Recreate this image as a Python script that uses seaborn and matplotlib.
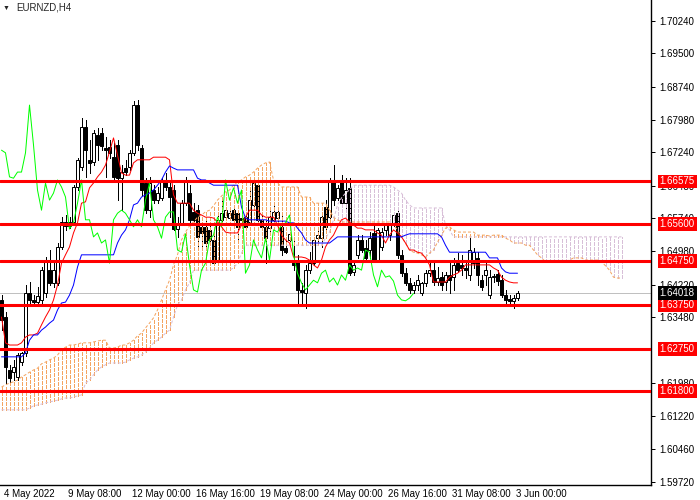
import numpy as np
import matplotlib
matplotlib.use("Agg")
import matplotlib.pyplot as plt
import matplotlib.transforms as mtrans
import seaborn as sns

# EURNZD H4 candles (one value per bar)
open_ = [1.6387, 1.6348, 1.6227, 1.6222, 1.6211, 1.6245, 1.6266, 1.6403, 1.6387, 1.6382,
         1.6387, 1.6403, 1.6455, 1.6426, 1.6426, 1.6508, 1.6565, 1.6556, 1.6565, 1.6645,
         1.6691, 1.6782, 1.6707, 1.6702, 1.6764, 1.6768, 1.6734, 1.6736, 1.6713, 1.6741,
         1.6665, 1.6688, 1.6691, 1.6723, 1.6832, 1.6734, 1.6654, 1.6592, 1.6638, 1.6615,
         1.6620, 1.6661, 1.6645, 1.6638, 1.6549, 1.6563, 1.6608, 1.6631, 1.6588, 1.6592,
         1.6554, 1.6554, 1.6547, 1.6524, 1.6478, 1.6570, 1.6576, 1.6574, 1.6592, 1.6585,
         1.6574, 1.6576, 1.6565, 1.6604, 1.6649, 1.6570, 1.6554, 1.6551, 1.6570, 1.6574,
         1.6554, 1.6506, 1.6524, 1.6478, 1.6478, 1.6410, 1.6403, 1.6455, 1.6471, 1.6528,
         1.6528, 1.6599, 1.6576, 1.6656, 1.6620, 1.6656, 1.6608, 1.6643, 1.6451, 1.6490,
         1.6524, 1.6506, 1.6501, 1.6540, 1.6478, 1.6508, 1.6547, 1.6535, 1.6563, 1.6585,
         1.6490, 1.6448, 1.6426, 1.6410, 1.6421, 1.6403, 1.6426, 1.6448, 1.6455, 1.6428,
         1.6439, 1.6428, 1.6444, 1.6439, 1.6471, 1.6467, 1.6460, 1.6444, 1.6471, 1.6483,
         1.6432, 1.6444, 1.6398, 1.6439, 1.6446, 1.6432, 1.6398, 1.6389, 1.6385, 1.6391]
high = [1.6398, 1.6359, 1.6239, 1.6250, 1.6266, 1.6268, 1.6421, 1.6428, 1.6398, 1.6417,
        1.6462, 1.6485, 1.6501, 1.6478, 1.6517, 1.6576, 1.6581, 1.6576, 1.6649, 1.6711,
        1.6802, 1.6798, 1.6752, 1.6775, 1.6780, 1.6780, 1.6759, 1.6752, 1.6745, 1.6752,
        1.6695, 1.6707, 1.6729, 1.6841, 1.6844, 1.6741, 1.6665, 1.6668, 1.6649, 1.6645,
        1.6665, 1.6677, 1.6654, 1.6649, 1.6576, 1.6615, 1.6668, 1.6649, 1.6608, 1.6604,
        1.6563, 1.6570, 1.6558, 1.6540, 1.6581, 1.6622, 1.6599, 1.6592, 1.6604, 1.6592,
        1.6581, 1.6585, 1.6645, 1.6665, 1.6661, 1.6581, 1.6570, 1.6592, 1.6604, 1.6597,
        1.6581, 1.6524, 1.6542, 1.6531, 1.6490, 1.6426, 1.6467, 1.6496, 1.6528, 1.6547,
        1.6581, 1.6615, 1.6665, 1.6695, 1.6649, 1.6672, 1.6665, 1.6665, 1.6478, 1.6535,
        1.6535, 1.6524, 1.6542, 1.6558, 1.6551, 1.6551, 1.6565, 1.6570, 1.6585, 1.6592,
        1.6501, 1.6460, 1.6437, 1.6428, 1.6444, 1.6428, 1.6455, 1.6478, 1.6474, 1.6462,
        1.6451, 1.6451, 1.6478, 1.6483, 1.6494, 1.6490, 1.6478, 1.6528, 1.6506, 1.6496,
        1.6444, 1.6474, 1.6455, 1.6446, 1.6455, 1.6444, 1.6410, 1.6398, 1.6398, 1.6407]
low = [1.6318, 1.6197, 1.6193, 1.6204, 1.6204, 1.6239, 1.6259, 1.6373, 1.6373, 1.6375,
       1.6380, 1.6394, 1.6421, 1.6417, 1.6421, 1.6503, 1.6547, 1.6551, 1.6558, 1.6638,
       1.6684, 1.6668, 1.6677, 1.6695, 1.6707, 1.6729, 1.6668, 1.6711, 1.6661, 1.6615,
       1.6592, 1.6672, 1.6684, 1.6718, 1.6729, 1.6627, 1.6585, 1.6576, 1.6608, 1.6608,
       1.6615, 1.6638, 1.6576, 1.6547, 1.6531, 1.6558, 1.6604, 1.6565, 1.6563, 1.6508,
       1.6508, 1.6508, 1.6517, 1.6467, 1.6471, 1.6565, 1.6570, 1.6570, 1.6565, 1.6524,
       1.6558, 1.6547, 1.6558, 1.6592, 1.6558, 1.6547, 1.6471, 1.6535, 1.6558, 1.6565,
       1.6490, 1.6494, 1.6512, 1.6455, 1.6380, 1.6380, 1.6369, 1.6448, 1.6467, 1.6517,
       1.6508, 1.6547, 1.6570, 1.6604, 1.6615, 1.6604, 1.6592, 1.6444, 1.6444, 1.6483,
       1.6496, 1.6478, 1.6483, 1.6474, 1.6474, 1.6501, 1.6535, 1.6524, 1.6556, 1.6483,
       1.6442, 1.6421, 1.6403, 1.6403, 1.6410, 1.6398, 1.6419, 1.6442, 1.6421, 1.6421,
       1.6410, 1.6410, 1.6403, 1.6410, 1.6451, 1.6444, 1.6437, 1.6432, 1.6460, 1.6421,
       1.6410, 1.6421, 1.6391, 1.6428, 1.6421, 1.6394, 1.6375, 1.6375, 1.6369, 1.6387]
close = [1.6341, 1.6234, 1.6209, 1.6234, 1.6261, 1.6266, 1.6403, 1.6387, 1.6382, 1.6396,
         1.6455, 1.6478, 1.6426, 1.6455, 1.6508, 1.6565, 1.6556, 1.6565, 1.6645, 1.6707,
         1.6782, 1.6729, 1.6700, 1.6768, 1.6741, 1.6739, 1.6729, 1.6723, 1.6668, 1.6665,
         1.6679, 1.6679, 1.6723, 1.6832, 1.6741, 1.6638, 1.6592, 1.6654, 1.6615, 1.6631,
         1.6661, 1.6645, 1.6622, 1.6549, 1.6563, 1.6608, 1.6661, 1.6570, 1.6570, 1.6531,
         1.6540, 1.6517, 1.6524, 1.6471, 1.6570, 1.6585, 1.6592, 1.6585, 1.6570, 1.6554,
         1.6570, 1.6554, 1.6615, 1.6654, 1.6570, 1.6554, 1.6528, 1.6576, 1.6588, 1.6588,
         1.6501, 1.6496, 1.6538, 1.6467, 1.6410, 1.6405, 1.6455, 1.6471, 1.6524, 1.6535,
         1.6576, 1.6554, 1.6661, 1.6615, 1.6643, 1.6608, 1.6638, 1.6448, 1.6467, 1.6524,
         1.6501, 1.6483, 1.6528, 1.6478, 1.6547, 1.6542, 1.6558, 1.6563, 1.6581, 1.6490,
         1.6448, 1.6426, 1.6410, 1.6421, 1.6432, 1.6426, 1.6448, 1.6455, 1.6428, 1.6437,
         1.6421, 1.6444, 1.6432, 1.6467, 1.6455, 1.6460, 1.6455, 1.6501, 1.6496, 1.6444,
         1.6417, 1.6455, 1.6439, 1.6442, 1.6430, 1.6398, 1.6387, 1.6385, 1.6391, 1.64018]

# Ichimoku lines as drawn
tenkan = [1.6348, 1.6289, 1.6284, 1.6284, 1.6284, 1.6289, 1.6302, 1.6307, 1.6307, 1.6311,
          1.6330, 1.6348, 1.6364, 1.6387, 1.6421, 1.6471, 1.6490, 1.6508, 1.6540, 1.6563,
          1.6608, 1.6611, 1.6643, 1.6654, 1.6668, 1.6679, 1.6695, 1.6725, 1.6757, 1.6718,
          1.6677, 1.6672, 1.6672, 1.6700, 1.6707, 1.6707, 1.6707, 1.6707, 1.6713, 1.6713,
          1.6713, 1.6713, 1.6707, 1.6627, 1.6608, 1.6608, 1.6608, 1.6608, 1.6592, 1.6585,
          1.6581, 1.6576, 1.6576, 1.6574, 1.6565, 1.6554, 1.6542, 1.6540, 1.6540, 1.6540,
          1.6558, 1.6576, 1.6592, 1.6592, 1.6592, 1.6581, 1.6576, 1.6576, 1.6576, 1.6558,
          1.6535, 1.6524, 1.6517, 1.6485, 1.6485, 1.6485, 1.6483, 1.6478, 1.6467, 1.6460,
          1.6478, 1.6508, 1.6524, 1.6535, 1.6554, 1.6570, 1.6574, 1.6565, 1.6558, 1.6551,
          1.6551, 1.6547, 1.6547, 1.6547, 1.6540, 1.6535, 1.6517, 1.6535, 1.6547, 1.6540,
          1.6531, 1.6517, 1.6501, 1.6501, 1.6496, 1.6494, 1.6483, 1.6467, 1.6428, 1.6428,
          1.6428, 1.6428, 1.6439, 1.6444, 1.6448, 1.6455, 1.6467, 1.6467, 1.6467, 1.6467,
          1.6467, 1.6467, 1.6467, 1.6460, 1.6455, 1.6439, 1.6432, 1.6428, 1.6426, 1.6426]
kijun = [1.6257, 1.6257, 1.6257, 1.6257, 1.6257, 1.6257, 1.6266, 1.6295, 1.6307, 1.6307,
         1.6318, 1.6325, 1.6334, 1.6341, 1.6364, 1.6380, 1.6382, 1.6398, 1.6421, 1.6462,
         1.6490, 1.6490, 1.6490, 1.6490, 1.6490, 1.6490, 1.6490, 1.6490, 1.6490, 1.6517,
         1.6535, 1.6547, 1.6570, 1.6604, 1.6608, 1.6622, 1.6627, 1.6631, 1.6638, 1.6649,
         1.6661, 1.6679, 1.6693, 1.6688, 1.6684, 1.6684, 1.6684, 1.6684, 1.6684, 1.6665,
         1.6661, 1.6661, 1.6654, 1.6649, 1.6649, 1.6649, 1.6649, 1.6649, 1.6649, 1.6649,
         1.6599, 1.6574, 1.6570, 1.6570, 1.6570, 1.6570, 1.6570, 1.6567, 1.6567, 1.6567,
         1.6567, 1.6567, 1.6563, 1.6563, 1.6551, 1.6540, 1.6524, 1.6517, 1.6517, 1.6517,
         1.6517, 1.6517, 1.6517, 1.6524, 1.6531, 1.6531, 1.6531, 1.6531, 1.6531, 1.6531,
         1.6531, 1.6531, 1.6531, 1.6531, 1.6531, 1.6531, 1.6531, 1.6531, 1.6531, 1.6531,
         1.6531, 1.6535, 1.6538, 1.6538, 1.6538, 1.6538, 1.6538, 1.6538, 1.6538, 1.6538,
         1.6531, 1.6512, 1.6496, 1.6496, 1.6496, 1.6496, 1.6496, 1.6496, 1.6496, 1.6496,
         1.6496, 1.6496, 1.6483, 1.6483, 1.6483, 1.6460, 1.6451, 1.6448, 1.6448, 1.6448]
span_a = [1.6188, 1.6193, 1.6197, 1.6200, 1.6204, 1.6211, 1.6216, 1.6222, 1.6227, 1.6231,
          1.6241, 1.6245, 1.6250, 1.6254, 1.6261, 1.6273, 1.6279, 1.6284, 1.6284, 1.6286,
          1.6289, 1.6289, 1.6289, 1.6291, 1.6293, 1.6295, 1.6295, 1.6277, 1.6277, 1.6279,
          1.6284, 1.6284, 1.6289, 1.6295, 1.6305, 1.6311, 1.6323, 1.6334, 1.6346, 1.6364,
          1.6387, 1.6410, 1.6432, 1.6467, 1.6490, 1.6524, 1.6542, 1.6556, 1.6565, 1.6576,
          1.6581, 1.6588, 1.6592, 1.6602, 1.6615, 1.6624, 1.6634, 1.6638, 1.6649, 1.6656,
          1.6661, 1.6668, 1.6672, 1.6679, 1.6688, 1.6695, 1.6700, 1.6702, 1.6661, 1.6654,
          1.6645, 1.6645, 1.6645, 1.6645, 1.6645, 1.6622, 1.6622, 1.6622, 1.6608, 1.6608,
          1.6608, 1.6608, 1.6592, 1.6576, 1.6570, 1.6565, 1.6565, 1.6565, 1.6565, 1.6565,
          1.6565, 1.6565, 1.6565, 1.6565, 1.6565, 1.6565, 1.6565, 1.6565, 1.6558, 1.6547,
          1.6531, 1.6517, 1.6501, 1.6496, 1.6494, 1.6490, 1.6485, 1.6494, 1.6501, 1.6519,
          1.6535, 1.6551, 1.6554, 1.6547, 1.6542, 1.6542, 1.6542, 1.6542, 1.6542, 1.6535,
          1.6535, 1.6535, 1.6533, 1.6535, 1.6535, 1.6535, 1.6528, 1.6524, 1.6517, 1.6517,
          1.6517, 1.6512, 1.6512, 1.6501, 1.6490, 1.6483, 1.6474, 1.6474, 1.6474, 1.6474,
          1.6474, 1.6474, 1.6478, 1.6483, 1.6483, 1.6483, 1.6478, 1.6478, 1.6478, 1.6478,
          1.6474, 1.6465, 1.6455, 1.6439, 1.6437, 1.6437]
span_b = [1.6136, 1.6136, 1.6136, 1.6136, 1.6136, 1.6136, 1.6136, 1.6140, 1.6145, 1.6147,
          1.6149, 1.6152, 1.6154, 1.6156, 1.6158, 1.6161, 1.6163, 1.6163, 1.6165, 1.6168,
          1.6170, 1.6197, 1.6204, 1.6216, 1.6227, 1.6234, 1.6239, 1.6243, 1.6243, 1.6243,
          1.6243, 1.6245, 1.6250, 1.6254, 1.6257, 1.6261, 1.6268, 1.6277, 1.6289, 1.6295,
          1.6302, 1.6311, 1.6318, 1.6348, 1.6375, 1.6387, 1.6410, 1.6426, 1.6455, 1.6455,
          1.6455, 1.6455, 1.6455, 1.6455, 1.6455, 1.6455, 1.6455, 1.6455, 1.6460, 1.6471,
          1.6494, 1.6512, 1.6512, 1.6512, 1.6512, 1.6512, 1.6512, 1.6512, 1.6512, 1.6512,
          1.6512, 1.6512, 1.6512, 1.6512, 1.6512, 1.6512, 1.6512, 1.6512, 1.6512, 1.6512,
          1.6512, 1.6528, 1.6542, 1.6570, 1.6604, 1.6620, 1.6631, 1.6638, 1.6649, 1.6649,
          1.6649, 1.6649, 1.6649, 1.6649, 1.6649, 1.6649, 1.6649, 1.6649, 1.6645, 1.6638,
          1.6631, 1.6615, 1.6604, 1.6597, 1.6597, 1.6597, 1.6597, 1.6597, 1.6597, 1.6597,
          1.6597, 1.6558, 1.6547, 1.6531, 1.6531, 1.6531, 1.6531, 1.6531, 1.6531, 1.6531,
          1.6531, 1.6531, 1.6531, 1.6531, 1.6531, 1.6531, 1.6531, 1.6531, 1.6531, 1.6531,
          1.6531, 1.6531, 1.6531, 1.6531, 1.6531, 1.6531, 1.6531, 1.6531, 1.6531, 1.6531,
          1.6531, 1.6531, 1.6531, 1.6531, 1.6531, 1.6531, 1.6531, 1.6531, 1.6531, 1.6531,
          1.6531, 1.6531, 1.6531, 1.6531, 1.6531, 1.6531]
chikou_shift = 26

levels = [1.66575, 1.65600, 1.64750, 1.63750, 1.62750, 1.61800]
last_price = 1.64018
price_ticks = [1.70240, 1.69500, 1.68740, 1.67980, 1.67240, 1.66480, 1.65740, 1.64980,
               1.64220, 1.63480, 1.61980, 1.61220, 1.60460, 1.59720]
time_ticks = [0, 16, 32, 48, 64, 80, 96, 112, 128]
time_labels = ['4 May 2022', '9 May 08:00', '12 May 00:00', '16 May 16:00', '19 May 08:00',
               '24 May 00:00', '26 May 16:00', '31 May 08:00', '3 Jun 00:00']

sns.set_style("white")
plt.rcParams['font.family'] = ['Liberation Sans', 'DejaVu Sans']
plt.rcParams['font.size'] = 7

px = 0.72  # one pixel in points at 100 dpi
fig = plt.figure(figsize=(7, 5), dpi=100)
ax = fig.add_axes([0, 15 / 500, 651 / 700, 485 / 500])

o = np.array(open_); h = np.array(high); l = np.array(low); c = np.array(close)
bars = np.arange(len(c))
up = c >= o

# candles
ax.vlines(bars, l, h, colors='black', linewidth=px, zorder=2, antialiased=False)
ax.bar(bars[up], (c - o)[up], bottom=o[up], width=0.55, color='white',
       edgecolor='black', linewidth=px, zorder=2.1)
ax.bar(bars[~up], (o - c)[~up], bottom=c[~up], width=0.55, color='black',
       edgecolor='black', linewidth=px, zorder=2.1)

# cloud, drawn as dotted vertical hatch between the two spans
a = np.array(span_a); b = np.array(span_b)
cx = np.arange(len(a))
bull = a >= b
dot = (0, (3, 2))
ax.vlines(cx[bull], b[bull], a[bull], colors='#F4A460', linestyles=dot, linewidth=px,
          zorder=3, antialiased=False)
ax.vlines(cx[~bull], a[~bull], b[~bull], colors='#D8BFD8', linestyles=dot, linewidth=px,
          zorder=3, antialiased=False)
ax.plot(cx, a, color='#F4A460', linestyle=dot, linewidth=px, zorder=3.1)
ax.plot(cx, b, color='#D8BFD8', linestyle=dot, linewidth=px, zorder=3.1)

# tenkan, kijun, chikou
sns.lineplot(x=bars, y=np.array(tenkan), ax=ax, color='red', linewidth=px, zorder=4)
sns.lineplot(x=bars, y=np.array(kijun), ax=ax, color='blue', linewidth=px, zorder=4)
sns.lineplot(x=bars[chikou_shift:] - chikou_shift, y=c[chikou_shift:], ax=ax,
             color='#00FF00', linewidth=px, zorder=4)

# levels
ax.axhline(last_price, color='#C0C0C0', linewidth=px, zorder=1.5)
for lv in levels:
    ax.axhline(lv, color='red', linewidth=2.2, zorder=5)

ax.set_xlim(-0.375, 162.375)
ax.set_ylim(1.59643, 1.70720)

ax.yaxis.tick_right()
ax.set_yticks(price_ticks)
ax.set_yticklabels(['%.5f' % t for t in price_ticks])
ax.tick_params(axis='y', direction='out', length=3, width=px, pad=3, colors='black',
               labelsize=7)
ax.set_xticks(time_ticks)
ax.set_xticklabels(time_labels, ha='left')
ax.tick_params(axis='x', direction='out', length=3, width=px, pad=0, colors='black',
               labelsize=7)
shift = mtrans.ScaledTranslation(2 / 100, 0, fig.dpi_scale_trans)
for lab in ax.get_xticklabels():
    lab.set_transform(lab.get_transform() + shift)

for side in ['left', 'top']:
    ax.spines[side].set_visible(False)
for side in ['right', 'bottom']:
    ax.spines[side].set_color('black')
    ax.spines[side].set_linewidth(1.0)
ax.grid(False)

ytr = ax.get_yaxis_transform()
for lv in levels:
    ax.text(1.0135, lv, '%.5f' % lv, transform=ytr, ha='left', va='center', color='white',
            fontsize=7, zorder=10, clip_on=False,
            bbox=dict(boxstyle='square,pad=0.2', fc='red', ec='none'))
ax.text(1.0135, last_price, '%.5f' % last_price, transform=ytr, ha='left', va='center',
        color='white', fontsize=7, zorder=10, clip_on=False,
        bbox=dict(boxstyle='square,pad=0.2', fc='black', ec='none'))

fig.text(3 / 700, 1 - 8 / 500, '\u25bc', fontsize=5, va='center', ha='left')
fig.text(16 / 700, 1 - 8 / 500, 'EURNZD,H4', fontsize=7, va='center', ha='left')

fig.savefig('out.png', dpi=100)
